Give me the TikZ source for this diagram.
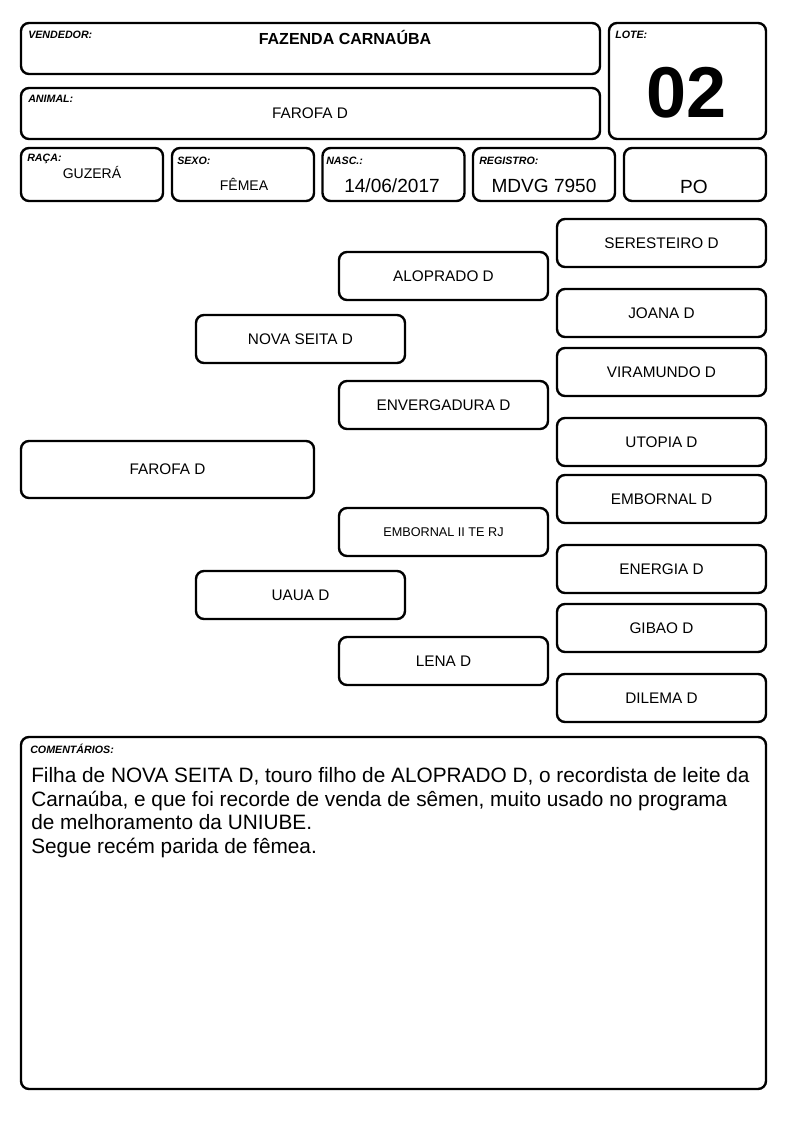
\documentclass[tikz,border=0pt]{standalone}
\usepackage{fontspec}
\setmainfont{Liberation Sans}
\usetikzlibrary{positioning}

\begin{document}
\begin{tikzpicture}
[x=0.75pt,y=-0.75pt,every node/.style={inner sep=0pt},
box/.style={draw,line width=1.8pt,rounded corners=6pt},
tag/.style={anchor=north west,font=\fontsize{8}{9}\selectfont\bfseries\itshape},
val/.style={font=\fontsize{10.5}{12}\selectfont},
big/.style={font=\fontsize{14.3}{16}\selectfont},
pbox/.style={box,minimum width=156.75pt,minimum height=36pt,font=\fontsize{11.5}{13}\selectfont}]

\useasboundingbox (0,0) rectangle (794,1123);

% cabecalho
\node[box,minimum width=434.25pt,minimum height=38.25pt] (vend) at (310.5,48.5) {};
\node[box,minimum width=434.25pt,minimum height=38.25pt] (anim) at (310.5,113.5) {};
\node[box,minimum width=117.75pt,minimum height=87pt] (lote) at (687.5,81) {};
\node[tag] (vendt) at (28,31) {VENDEDOR:};
\node[tag] (animt) at (28,95) {ANIMAL:};
\node[tag] (lotet) at (615,31) {LOTE:};
\node[font=\fontsize{12}{14}\selectfont\bfseries] (vendv) at (345,37) {FAZENDA CARNAÚBA};
\node[font=\fontsize{11.5}{13}\selectfont] (animv) at (310,113) {FAROFA D};
\node[font=\fontsize{54}{60}\selectfont\bfseries] (lotev) at (687,93) {02};

% dados
\foreach \nm/\cx in {raca/92,sexo/243,nasc/393.5,reg/544,cat/695}{
	\node[box,minimum width=106.5pt,minimum height=39.75pt] (\nm) at (\cx,174.5) {};
};
\node[tag] (racat) at (27,154) {RAÇA:};
\node[tag] (sexot) at (177,157) {SEXO:};
\node[tag] (nasct) at (326,157) {NASC.:};
\node[tag] (regt) at (479,157) {REGISTRO:};
\node[val] (racav) at (92,172) {GUZERÁ};
\node[val] (sexov) at (244,184) {FÊMEA};
\node[big] (nascv) at (392,186) {14/06/2017};
\node[big] (regv) at (544,186) {MDVG 7950};
\node[big] (catv) at (694,187) {PO};

% genealogia
\node[pbox,minimum width=219.75pt,minimum height=42.75pt] (a) at (167.5,469.5) {FAROFA D};
\node[pbox] (p) at (300.5,339) {NOVA SEITA D};
\node[pbox] (m) at (300.5,595) {UAUA D};
\node[pbox] (pp) at (443.5,276) {ALOPRADO D};
\node[pbox] (pm) at (443.5,405) {ENVERGADURA D};
\node[pbox,font=\fontsize{9.5}{11}\selectfont] (mp) at (443.5,532) {EMBORNAL II TE RJ};
\node[pbox] (mm) at (443.5,661) {LENA D};
\foreach \nm/\cy/\txt in {ppp/243/SERESTEIRO D,ppm/313/JOANA D,pmp/372/VIRAMUNDO D,
	pmm/442/UTOPIA D,mpp/499/EMBORNAL D,mpm/569/ENERGIA D,mmp/628/GIBAO D,mmm/698/DILEMA D}{
	\node[pbox] (\nm) at (661.5,\cy) {\txt};
};

% comentarios
\node[box,minimum width=558.75pt,minimum height=264pt] (com) at (393.5,913) {};
\node[tag] (comt) at (30,744) {COMENTÁRIOS:};
\node[anchor=north west,align=left,font=\fontsize{15.6}{17.8}\selectfont] (comv) at (31,767)
{Filha de NOVA SEITA D, touro filho de ALOPRADO D, o recordista de leite da\\
Carnaúba, e que foi recorde de venda de sêmen, muito usado no programa\\
de melhoramento da UNIUBE.\\
Segue recém parida de fêmea.};
\end{tikzpicture}
\end{document}
